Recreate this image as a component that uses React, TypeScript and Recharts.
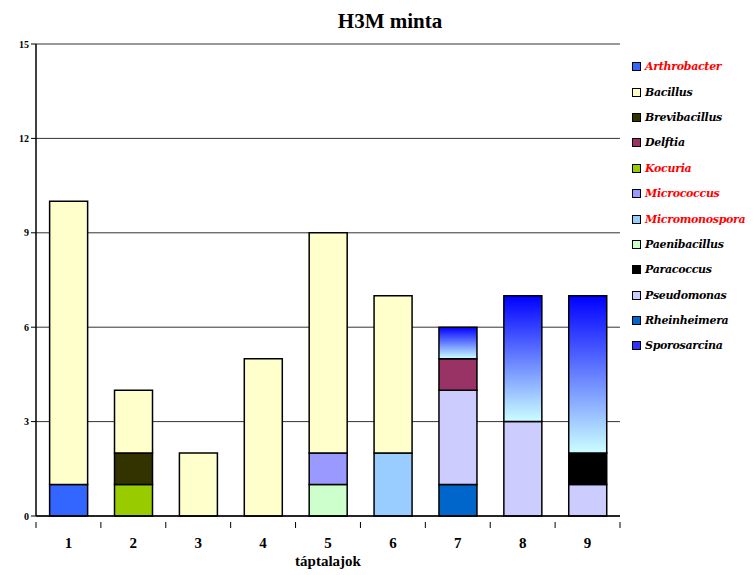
import { BarChart, Bar, XAxis, YAxis, CartesianGrid } from "recharts"

// Categories (táptalajok) and counts per genus
const categories = ["1", "2", "3", "4", "5", "6", "7", "8", "9"]
const yTicks = [0, 3, 6, 9, 12, 15]

const arthrobacter = [1, 0, 0, 0, 0, 0, 0, 0, 0]
const bacillus = [9, 2, 2, 5, 7, 5, 0, 0, 0]
const brevibacillus = [0, 1, 0, 0, 0, 0, 0, 0, 0]
const delftia = [0, 0, 0, 0, 0, 0, 1, 0, 0]
const kocuria = [0, 1, 0, 0, 0, 0, 0, 0, 0]
const micrococcus = [0, 0, 0, 0, 1, 0, 0, 0, 0]
const micromonospora = [0, 0, 0, 0, 0, 2, 0, 0, 0]
const paenibacillus = [0, 0, 0, 0, 1, 0, 0, 0, 0]
const paracoccus = [0, 0, 0, 0, 0, 0, 0, 0, 1]
const pseudomonas = [0, 0, 0, 0, 0, 0, 3, 3, 1]
const rheinheimera = [0, 0, 0, 0, 0, 0, 1, 0, 0]
const sporosarcina = [0, 0, 0, 0, 0, 0, 1, 4, 5]

// legend order
const series = [
    { key: "Arthrobacter", values: arthrobacter, color: "#3366ff", red: true },
    { key: "Bacillus", values: bacillus, color: "#ffffcc", red: false },
    { key: "Brevibacillus", values: brevibacillus, color: "#333300", red: false },
    { key: "Delftia", values: delftia, color: "#993366", red: false },
    { key: "Kocuria", values: kocuria, color: "#99cc00", red: true },
    { key: "Micrococcus", values: micrococcus, color: "#9999ff", red: true },
    { key: "Micromonospora", values: micromonospora, color: "#99ccff", red: true },
    { key: "Paenibacillus", values: paenibacillus, color: "#ccffcc", red: false },
    { key: "Paracoccus", values: paracoccus, color: "#000000", red: false },
    { key: "Pseudomonas", values: pseudomonas, color: "#ccccff", red: false },
    { key: "Rheinheimera", values: rheinheimera, color: "#0066cc", red: false },
    { key: "Sporosarcina", values: sporosarcina, color: "#3333ff", red: false },
]

// stacking order, bottom to top
const stackOrder = [
    "Arthrobacter", "Kocuria", "Paenibacillus", "Micromonospora", "Rheinheimera",
    "Pseudomonas", "Micrococcus", "Brevibacillus", "Paracoccus", "Delftia",
    "Bacillus", "Sporosarcina",
]

const data = categories.map((c, i) => {
    const row: Record<string, string | number> = { name: c }
    series.forEach((s) => { row[s.key] = s.values[i] })
    return row
})

const W = 754
const H = 575
const X_AXIS_H = 30
const Y_AXIS_W = 30
const M = { top: 44, right: 134, bottom: 59 - X_AXIS_H, left: 6 }
const plotW = W - M.left - M.right - Y_AXIS_W
const band = plotW / categories.length

const font = '"Liberation Serif", serif'
const legendFont = '"DejaVu Serif", serif'

const XTick = (props: any) => {
    const { x, y, payload } = props
    return (
        <g>
            <line x1={x - band / 2} x2={x - band / 2} y1={y - 2} y2={y + 4} stroke="#000" />
            {payload.index === categories.length - 1 && (
                <line x1={x + band / 2} x2={x + band / 2} y1={y - 2} y2={y + 4} stroke="#000" />
            )}
            <text x={x} y={y + 24} textAnchor="middle" fontFamily={font} fontWeight="bold" fontSize={15} fill="#000">
                {payload.value}
            </text>
        </g>
    )
}

export default function App() {
    return (
        <div style={{ position: "absolute", left: 0, top: 0, width: W, height: H, background: "#fff" }}>
            <div
                style={{
                    position: "absolute", top: 9, left: 0, width: 780, textAlign: "center",
                    fontFamily: font, fontWeight: "bold", fontSize: 21, color: "#000",
                }}
            >
                H3M minta
            </div>
            <div
                style={{
                    position: "absolute", top: 553, left: M.left + Y_AXIS_W, width: plotW, textAlign: "center",
                    fontFamily: font, fontWeight: "bold", fontSize: 15, color: "#000",
                }}
            >
                táptalajok
            </div>
            {/* legend */}
            <div
                style={{
                    position: "absolute", left: 632, top: 54, width: 122,
                    fontFamily: legendFont, fontWeight: "bold", fontStyle: "italic", fontSize: 11,
                }}
            >
                {series.map((s) => (
                    <div key={s.key} style={{ display: "flex", alignItems: "center", height: 25.4 }}>
                        <span
                            style={{
                                display: "inline-block", width: 7, height: 7, marginRight: 4,
                                background: s.color, border: "1.5px solid #000",
                            }}
                        />
                        <span style={{ color: s.red ? "#ff0000" : "#000", letterSpacing: -0.3 }}>{s.key}</span>
                    </div>
                ))}
            </div>
            <BarChart width={W} height={H} data={data} margin={M} barCategoryGap="21%" style={{ position: "absolute", left: 0, top: 0 }}>
                <defs>
                    <linearGradient id="sporoGrad" x1="0" y1="0" x2="0" y2="1">
                        <stop offset="0%" stopColor="#0000ff" />
                        <stop offset="100%" stopColor="#ccffff" />
                    </linearGradient>
                </defs>
                <CartesianGrid vertical={false} stroke="#333" strokeWidth={1} />
                <XAxis
                    dataKey="name"
                    height={X_AXIS_H}
                    tick={<XTick />}
                    tickLine={false}
                    axisLine={{ stroke: "#000", strokeWidth: 1.5 }}
                    interval={0}
                />
                <YAxis
                    width={Y_AXIS_W}
                    domain={[0, 15]}
                    ticks={yTicks}
                    interval={0}
                    tickSize={5}
                    tickLine={{ stroke: "#000" }}
                    axisLine={{ stroke: "#000", strokeWidth: 1.5 }}
                    tick={{ fontFamily: font, fontWeight: "bold", fontSize: 10, fill: "#000" }}
                />
                {stackOrder.map((k) => {
                    const s = series.find((x) => x.key === k)!
                    return (
                        <Bar
                            key={k}
                            dataKey={k}
                            stackId="a"
                            fill={k === "Sporosarcina" ? "url(#sporoGrad)" : s.color}
                            stroke="#000"
                            strokeWidth={1.5}
                            isAnimationActive={false}
                        />
                    )
                })}
            </BarChart>
        </div>
    )
}
